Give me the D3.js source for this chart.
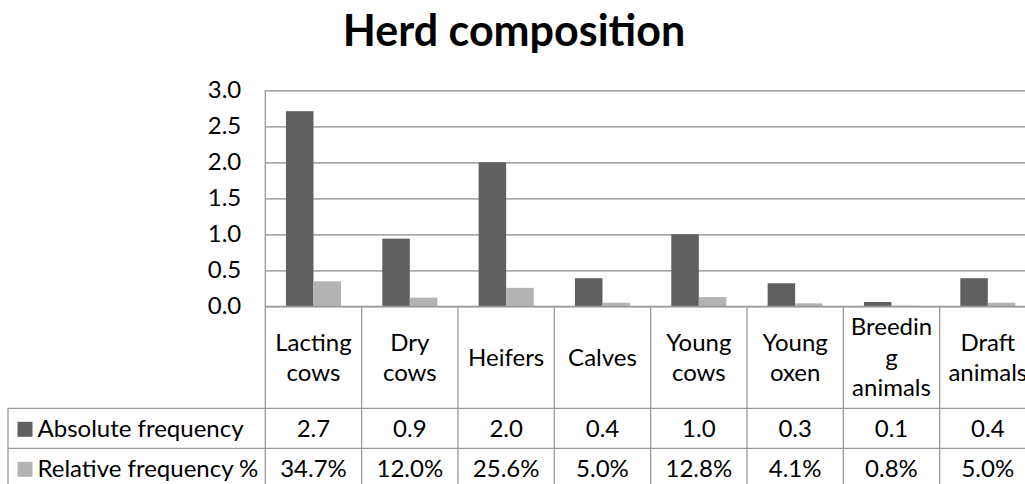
<!DOCTYPE html>
<html>
<head>
<meta charset="utf-8">
<script src="https://cdn.jsdelivr.net/npm/d3@7"></script>
<style>
  body { margin: 0; background: #fff; }
  text { font-family: Lato, "Open Sans", sans-serif; fill: #000; }
</style>
</head>
<body>
<div id="chart"></div>
<script>
// data
var categories = ["Lacting\ncows", "Dry\ncows", "Heifers", "Calves", "Young\ncows", "Young\noxen", "Breedin\ng\nanimals", "Draft\nanimals"];
var seriesNames = ["Absolute frequency", "Relative frequency %"];
var absolute = [2.71, 0.94, 2.0, 0.39, 1.0, 0.32, 0.06, 0.39];
var relative = [0.347, 0.120, 0.256, 0.050, 0.128, 0.041, 0.008, 0.050];
var yTicks = [0, 0.5, 1.0, 1.5, 2.0, 2.5, 3.0];
var colors = ["#606060", "#b3b3b3"];

var width = 1025, height = 484,
    plotLeft = 265.3, plotRight = 1036, plotTop = 90.3, zeroY = 306.3,
    labelRowH = 102, rowH = 40, tableLeft = 8,
    fontSize = 24, lineGap = 30.5;

var fmtAbs = d3.format(".1f"), fmtRel = d3.format(".1%");

var svg = d3.select("#chart").append("svg")
    .attr("width", width)
    .attr("height", height);

var x = d3.scaleBand()
    .domain(categories)
    .range([plotLeft, plotRight]);

var xs = d3.scaleBand()
    .domain([0, 1])
    .range([0, x.bandwidth()])
    .paddingOuter(0.75);

var y = d3.scaleLinear()
    .domain([0, 3])
    .range([zeroY, plotTop]);

// title
svg.append("text")
    .attr("x", 514)
    .attr("y", 46)
    .attr("text-anchor", "middle")
    .style("font-size", "43px")
    .style("font-weight", "bold")
    .text("Herd composition");

// gridlines + tick labels
var axis = svg.append("g")
    .attr("transform", "translate(" + plotLeft + ",0)")
    .call(d3.axisLeft(y).tickValues(yTicks).tickFormat(d3.format(".1f"))
      .tickSize(-(plotRight - plotLeft)).tickPadding(24));
axis.select(".domain").remove();
axis.selectAll("line").attr("stroke", "#8a8a8a").attr("stroke-width", 1.3);
axis.selectAll("text")
    .style("font-size", fontSize + "px")
    .style("font-family", "Lato, sans-serif")
    .attr("fill", "#000");

// bars
var series = [absolute, relative];
var groups = svg.selectAll(".cat")
    .data(categories)
  .enter().append("g")
    .attr("class", "cat")
    .attr("transform", function(d) { return "translate(" + x(d) + ",0)"; });

groups.selectAll("rect")
    .data(function(d, i) { return series.map(function(s, k) { return {k: k, v: s[i]}; }); })
  .enter().append("rect")
    .attr("x", function(d) { return xs(d.k); })
    .attr("width", xs.bandwidth())
    .attr("y", function(d) { return y(d.v); })
    .attr("height", function(d) { return zeroY - y(d.v); })
    .attr("fill", function(d) { return colors[d.k]; });

// data table
var rowTop = zeroY + labelRowH,
    tableBottom = rowTop + rowH * 2,
    gridCol = "#9a9a9a";

var lines = svg.append("g").attr("stroke", gridCol).attr("stroke-width", 1.3);
// vertical axis line
lines.append("line").attr("x1", plotLeft).attr("x2", plotLeft).attr("y1", plotTop).attr("y2", tableBottom);
// column borders
categories.forEach(function(c) {
  var xr = x(c) + x.bandwidth();
  lines.append("line").attr("x1", xr).attr("x2", xr).attr("y1", zeroY).attr("y2", tableBottom);
});
lines.append("line").attr("x1", plotLeft).attr("x2", plotRight).attr("y1", zeroY).attr("y2", zeroY);
[rowTop, rowTop + rowH, tableBottom].forEach(function(yy) {
  lines.append("line").attr("x1", tableLeft).attr("x2", plotRight).attr("y1", yy).attr("y2", yy);
});
lines.append("line").attr("x1", tableLeft).attr("x2", tableLeft).attr("y1", rowTop).attr("y2", tableBottom);

// category labels
var labelCy = zeroY + labelRowH / 2;
categories.forEach(function(c) {
  var parts = c.split("\n");
  var t = svg.append("text")
      .attr("text-anchor", "middle")
      .style("font-size", fontSize + "px");
  parts.forEach(function(p, j) {
    t.append("tspan")
        .attr("x", x(c) + x.bandwidth() / 2)
        .attr("y", labelCy - (parts.length - 1) * lineGap / 2 + j * lineGap + 8.5)
        .text(p);
  });
});

// legend rows and values
var formats = [fmtAbs, fmtRel];
series.forEach(function(s, k) {
  var cy = rowTop + rowH * k + rowH / 2;
  svg.append("rect")
      .attr("x", 17.5).attr("y", cy - 6.5)
      .attr("width", 15).attr("height", 15)
      .attr("fill", colors[k]);
  svg.append("text")
      .attr("x", 37.5).attr("y", cy + 8.5)
      .style("font-size", fontSize + "px")
      .text(seriesNames[k]);
  svg.selectAll(".val" + k)
      .data(s)
    .enter().append("text")
      .attr("class", "val" + k)
      .attr("x", function(d, i) { return x(categories[i]) + x.bandwidth() / 2; })
      .attr("y", cy + 8.5)
      .attr("text-anchor", "middle")
      .style("font-size", fontSize + "px")
      .text(function(d) { return formats[k](d); });
});
</script>
</body>
</html>
